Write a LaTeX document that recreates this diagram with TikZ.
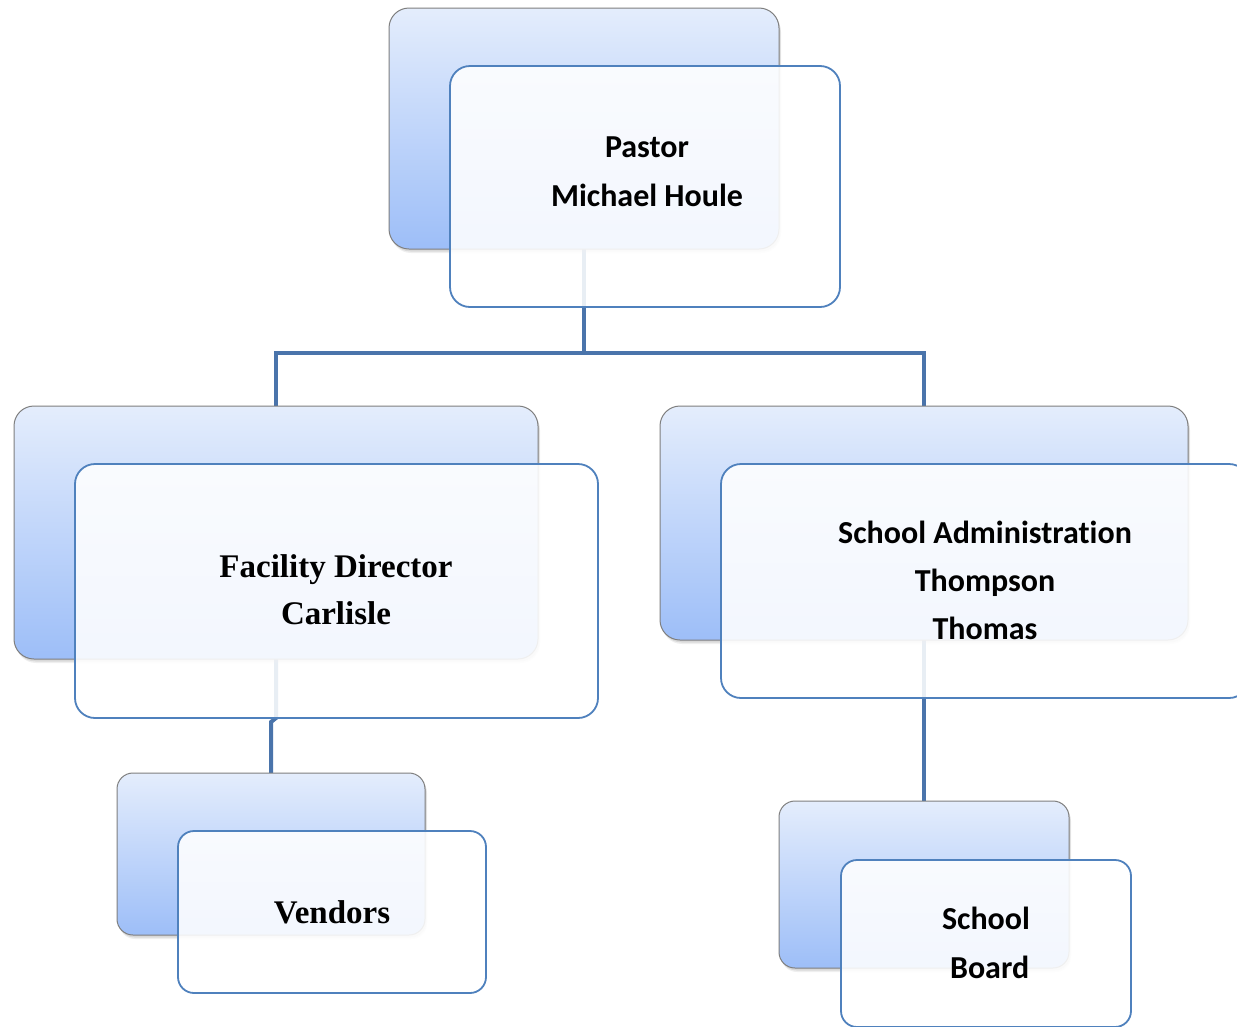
\documentclass[tikz,border=0pt]{standalone}
\usepackage{fontspec}
\newfontfamily\carlitob{Carlito}[BoldFont={Carlito Bold}, Ligatures=NoCommon]
\newfontfamily\serifbold{Liberation Serif}
\usetikzlibrary{shadows}
\pgfdeclarelayer{bg}
\pgfsetlayers{bg,main}
\definecolor{conn}{HTML}{4A74AB}
\definecolor{frontline}{HTML}{4F81BD}
\definecolor{backtop}{HTML}{E4EDFC}
\definecolor{backbot}{HTML}{9DBEF8}
\definecolor{backline}{HTML}{7F7F7F}
\tikzset{
  backbox/.style={rectangle, rounded corners=20pt, inner sep=0pt, outer sep=0pt,
    draw=backline, line width=1pt, top color=backtop, bottom color=backbot,
    drop shadow={shadow xshift=2pt, shadow yshift=-4pt, opacity=0.12},
    drop shadow={shadow xshift=1.5pt, shadow yshift=-2.5pt, opacity=0.2}},
  frontbox/.style={rectangle, rounded corners=20pt, inner sep=0pt, outer sep=0pt,
    draw=frontline, line width=1.8pt, fill=white, fill opacity=0.88, draw opacity=1},
  connector/.style={draw=conn, line width=4pt},
  sanslabel/.style={align=center, font=\carlitob\bfseries\fontsize{32}{49}\selectfont},
  seriflabel/.style={align=center, font=\serifbold\bfseries\fontsize{33}{47}\selectfont},
}
\begin{document}
\begin{tikzpicture}[x=1pt,y=-1pt]
\useasboundingbox (0,0) rectangle (1237,1026);
\begin{pgfonlayer}{bg}
\fill[white] (0,0) rectangle (1237,1026);
\end{pgfonlayer}
% back boxes
\node[backbox, minimum width=390pt, minimum height=241pt] (b1) at (584,128.5) {};
\node[backbox, minimum width=524pt, minimum height=253pt] (b2) at (276,532.5) {};
\node[backbox, minimum width=528pt, minimum height=234pt] (b3) at (924,523) {};
\node[backbox, rounded corners=16pt, minimum width=308pt, minimum height=162pt] (b4) at (271,854) {};
\node[backbox, rounded corners=16pt, minimum width=290pt, minimum height=167pt] (b5) at (924,884.5) {};
% connectors (behind the boxes)
\coordinate (j) at (584,353);
\begin{pgfonlayer}{bg}
\path[connector] (b1.south) -- (j);
\path[connector] (b2.north) |- (j) -| (b3.north);
\path[connector] (b2.south) -- (276,718) -- (271,722) -- (b4.north);
\path[connector] (b3.south) -- (b5.north);
\end{pgfonlayer}
% front boxes
\node[frontbox, minimum width=390pt, minimum height=241pt] (f1) at (645,186.5) {};
\node[frontbox, minimum width=523pt, minimum height=254pt] (f2) at (336.5,591) {};
\node[frontbox, minimum width=528pt, minimum height=234pt] (f3) at (985,581) {};
\node[frontbox, rounded corners=16pt, minimum width=308pt, minimum height=162pt] (f4) at (332,912) {};
\node[frontbox, rounded corners=16pt, minimum width=290pt, minimum height=167pt] (f5) at (986,943.5) {};
% labels
\node[sanslabel] (t1) at (647,172) {Pastor\\Michael Houle};
\node[seriflabel] (t2) at (336,589.5) {Facility Director\\Carlisle};
\node[sanslabel, font=\carlitob\bfseries\fontsize{32}{48}\selectfont] (t3) at (985,580) {School Administration\\Thompson\\Thomas};
\node[seriflabel] (t4) at (332,912) {Vendors};
\node[sanslabel] (t5) at (986,942.5) {School\\~Board};
\end{tikzpicture}
\end{document}
